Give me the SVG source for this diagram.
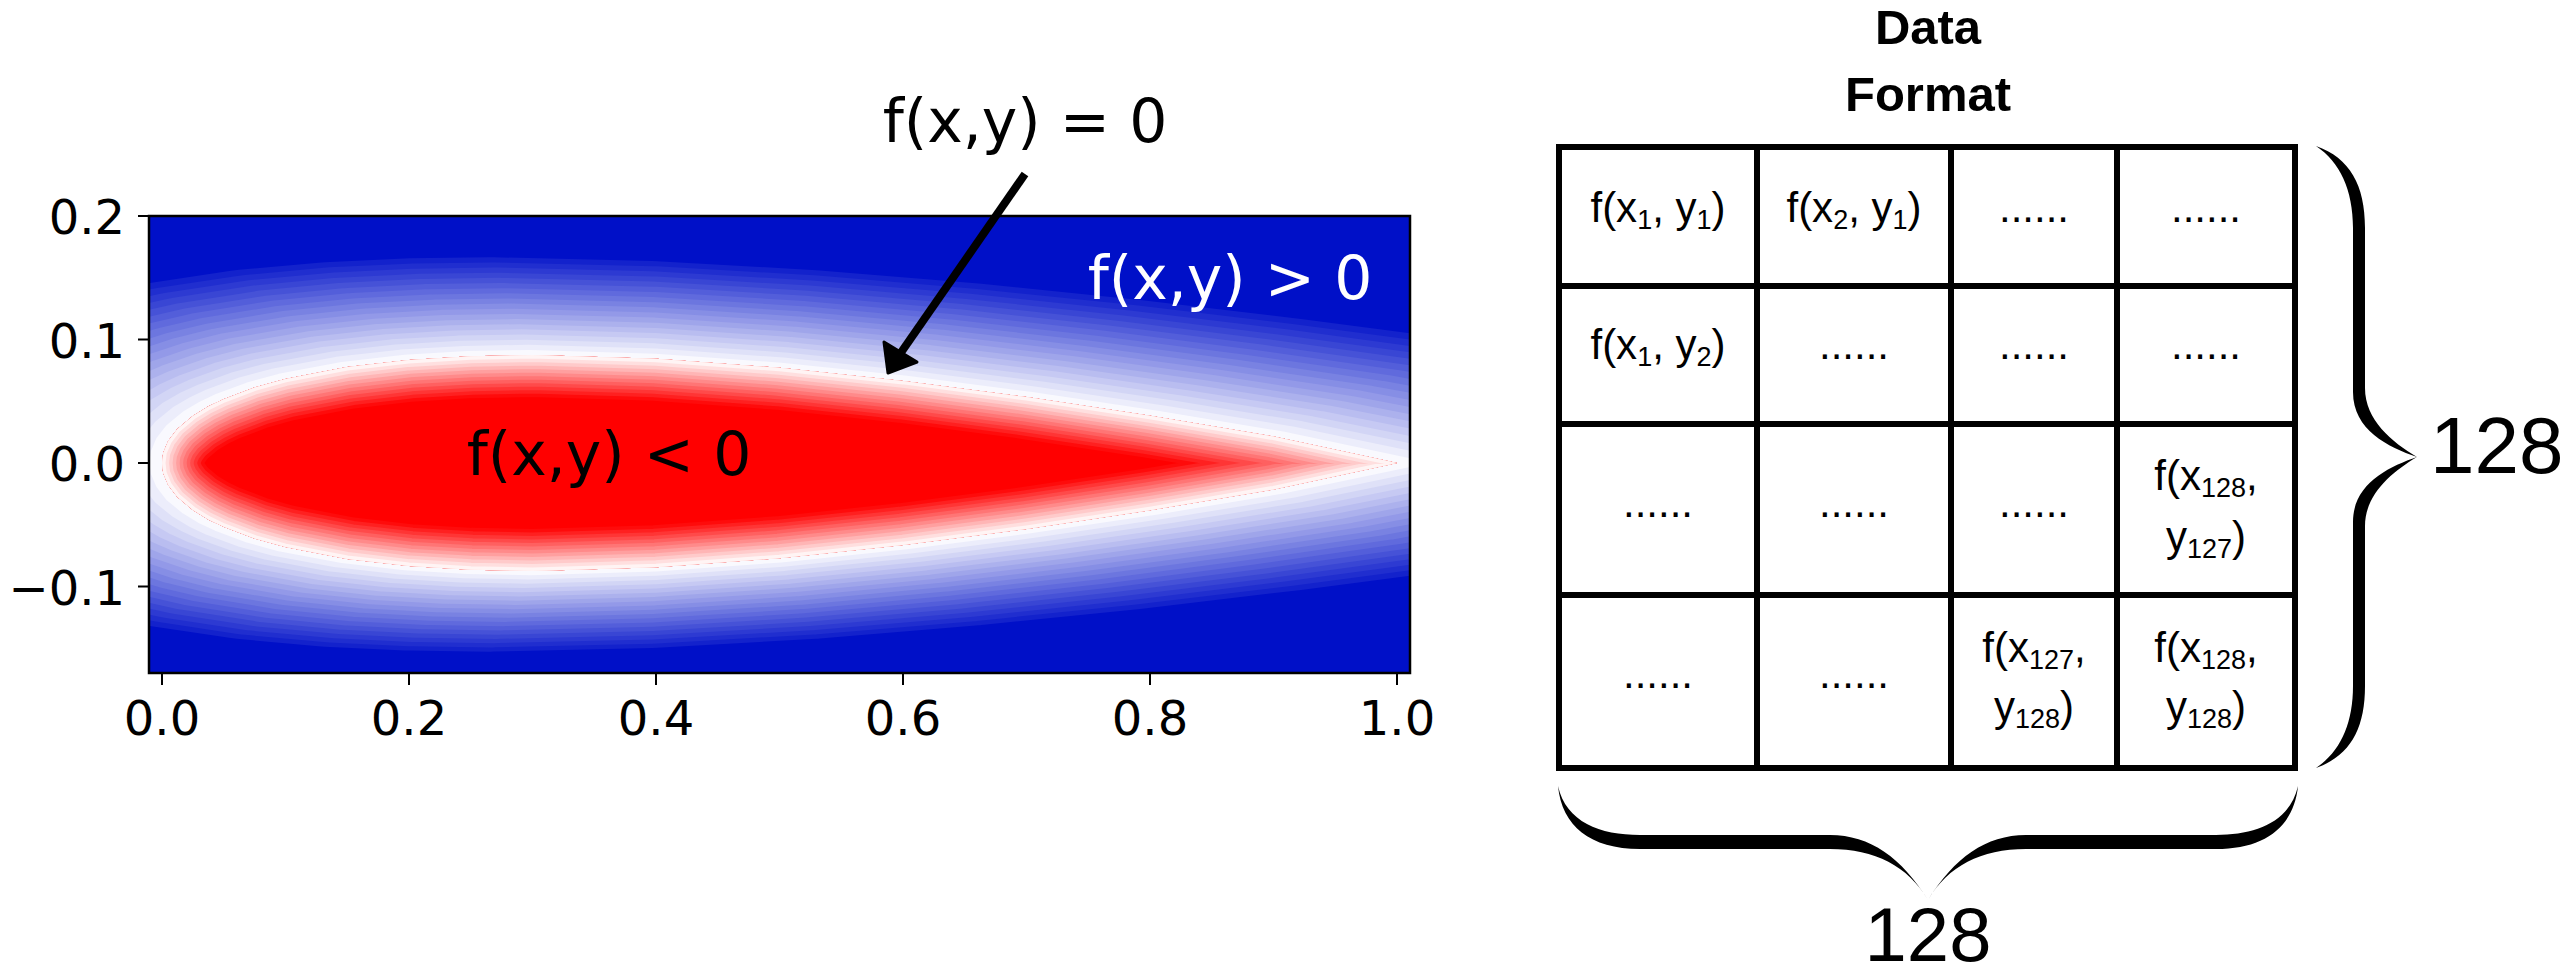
<svg xmlns="http://www.w3.org/2000/svg" xmlns:xlink="http://www.w3.org/1999/xlink" width="2574" height="978" viewBox="0 0 2574 978">
<style>
.tk{stroke:#000;stroke-width:2}
.tl{font-family:"DejaVu Sans",sans-serif;font-size:48px;fill:#000}
.lab{font-family:"DejaVu Sans",sans-serif;font-size:60px;text-anchor:middle}
.ct{font-family:"Liberation Sans",Arial,sans-serif;font-size:42px;text-anchor:middle;fill:#000}
.s{font-size:27px}
.big{font-family:"Liberation Sans",Arial,sans-serif;fill:#000}
.ttl{font-family:"Liberation Sans",Arial,sans-serif;font-size:49px;font-weight:bold;text-anchor:middle}
.af{stroke-linejoin:round}
.grid{stroke:#000;stroke-width:6;fill:none}
</style>
<defs>
<path id="af" d="M1397,463 L1273.5,436.6 L1150,415.8 L1026.5,397.1 L903,380.9 L779.5,367.8 L656,358.8 L532.5,355.1 L470.75,356.2 L409,359.9 L347.25,367.1 L285.5,378.9 L254.6,387.5 L223.75,399.2 L208.3,406.6 L192.9,416 L177.4,429 L168.2,441.1 L163.2,453 L162,463 L163.2,473 L168.2,484.9 L177.4,497 L192.9,510 L208.3,519.4 L223.75,526.8 L254.6,538.5 L285.5,547.1 L347.25,558.9 L409,566.1 L470.75,569.8 L532.5,570.9 L656,567.2 L779.5,558.2 L903,545.1 L1026.5,528.9 L1150,510.2 L1273.5,489.4 Z"/>
<clipPath id="pc"><rect x="149" y="216" width="1261" height="457"/></clipPath>
<clipPath id="ac"><use xlink:href="#af"/></clipPath>
<path id="brR" d="M2316,146 C2350,158 2365,185 2365,228 L2365,388 C2365,420 2392,442 2417,457 C2388,447 2353,430 2353,392 L2353,228 C2353,190 2340,162 2316,146 Z"/>
<path id="brB" d="M1558,786 C1562,826 1590,849 1640,849 L1830,849 C1875,849 1908,866 1928,900 C1902,858 1870,835 1830,835 L1640,835 C1600,835 1566,822 1558,786 Z"/>
</defs>
<rect width="2574" height="978" fill="#fff"/>

<g id="heatmap" clip-path="url(#pc)">
<rect x="149" y="216" width="1261" height="457" fill="#0010C8"/>
<g class="af">
<use xlink:href="#af" fill="#1322CC" stroke="#1322CC" stroke-width="178.6" transform="matrix(1.285 0 0 1 -193.8 -8.55)"/>
<use xlink:href="#af" fill="#202ECF" stroke="#202ECF" stroke-width="169.2" transform="matrix(1.27 0 0 1 -183.6 -8.1)"/>
<use xlink:href="#af" fill="#2D3AD2" stroke="#2D3AD2" stroke-width="159.8" transform="matrix(1.255 0 0 1 -173.4 -7.65)"/>
<use xlink:href="#af" fill="#3946D4" stroke="#3946D4" stroke-width="150.4" transform="matrix(1.24 0 0 1 -163.2 -7.2)"/>
<use xlink:href="#af" fill="#4652D7" stroke="#4652D7" stroke-width="141" transform="matrix(1.225 0 0 1 -153 -6.75)"/>
<use xlink:href="#af" fill="#535EDA" stroke="#535EDA" stroke-width="131.6" transform="matrix(1.21 0 0 1 -142.8 -6.3)"/>
<use xlink:href="#af" fill="#606ADD" stroke="#606ADD" stroke-width="122.2" transform="matrix(1.195 0 0 1 -132.6 -5.85)"/>
<use xlink:href="#af" fill="#6C76DF" stroke="#6C76DF" stroke-width="112.8" transform="matrix(1.18 0 0 1 -122.4 -5.4)"/>
<use xlink:href="#af" fill="#7982E2" stroke="#7982E2" stroke-width="103.4" transform="matrix(1.165 0 0 1 -112.2 -4.95)"/>
<use xlink:href="#af" fill="#868EE5" stroke="#868EE5" stroke-width="94" transform="matrix(1.15 0 0 1 -102 -4.5)"/>
<use xlink:href="#af" fill="#9399E8" stroke="#9399E8" stroke-width="84.6" transform="matrix(1.135 0 0 1 -91.8 -4.05)"/>
<use xlink:href="#af" fill="#9FA5EA" stroke="#9FA5EA" stroke-width="75.2" transform="matrix(1.12 0 0 1 -81.6 -3.6)"/>
<use xlink:href="#af" fill="#ACB1ED" stroke="#ACB1ED" stroke-width="65.8" transform="matrix(1.105 0 0 1 -71.4 -3.15)"/>
<use xlink:href="#af" fill="#B9BDF0" stroke="#B9BDF0" stroke-width="56.4" transform="matrix(1.09 0 0 1 -61.2 -2.7)"/>
<use xlink:href="#af" fill="#C6C9F3" stroke="#C6C9F3" stroke-width="47" transform="matrix(1.075 0 0 1 -51 -2.25)"/>
<use xlink:href="#af" fill="#D2D5F5" stroke="#D2D5F5" stroke-width="37.6" transform="matrix(1.06 0 0 1 -40.8 -1.8)"/>
<use xlink:href="#af" fill="#DFE1F8" stroke="#DFE1F8" stroke-width="28.2" transform="matrix(1.045 0 0 1 -30.6 -1.35)"/>
<use xlink:href="#af" fill="#ECEDFB" stroke="#ECEDFB" stroke-width="18.8" transform="matrix(1.03 0 0 1 -20.4 -0.9)"/>
<use xlink:href="#af" fill="#F9F9FE" stroke="#F9F9FE" stroke-width="9.4" transform="matrix(1.015 0 0 1 -10.2 -0.45)"/>
</g>
<g clip-path="url(#ac)" fill="none" class="af">
<use xlink:href="#af" fill="#FF0000"/>
<use xlink:href="#af" stroke="#FF0B0B" stroke-width="84"/>
<use xlink:href="#af" stroke="#FF2020" stroke-width="77"/>
<use xlink:href="#af" stroke="#FF3535" stroke-width="70"/>
<use xlink:href="#af" stroke="#FF4A4A" stroke-width="63"/>
<use xlink:href="#af" stroke="#FF6060" stroke-width="56"/>
<use xlink:href="#af" stroke="#FF7575" stroke-width="49"/>
<use xlink:href="#af" stroke="#FF8A8A" stroke-width="42"/>
<use xlink:href="#af" stroke="#FF9F9F" stroke-width="35"/>
<use xlink:href="#af" stroke="#FFB5B5" stroke-width="28"/>
<use xlink:href="#af" stroke="#FFCACA" stroke-width="21"/>
<use xlink:href="#af" stroke="#FFDFDF" stroke-width="14"/>
<use xlink:href="#af" stroke="#FFF4F4" stroke-width="7"/>
</g>
</g>

<g id="axes">
<rect x="149" y="216" width="1261" height="457" fill="none" stroke="#000" stroke-width="2.5"/>
<path class="tk" d="M162,673V685M409,673V685M656,673V685M903,673V685M1150,673V685M1397,673V685M138,216H149M138,339.5H149M138,463H149M138,586.5H149"/>
<g class="tl" text-anchor="middle">
<text x="162" y="735">0.0</text><text x="409" y="735">0.2</text><text x="656" y="735">0.4</text><text x="903" y="735">0.6</text><text x="1150" y="735">0.8</text><text x="1397" y="735">1.0</text>
</g>
<g class="tl" text-anchor="end">
<text x="125" y="234">0.2</text><text x="125" y="357.5">0.1</text><text x="125" y="481">0.0</text><text x="125" y="604.5">−0.1</text>
</g>
</g>

<g id="label-neg"><text class="lab" x="609" y="475" fill="#000">f(x,y) &lt; 0</text></g>
<g id="label-pos"><text class="lab" x="1230" y="299" fill="#fff">f(x,y) &gt; 0</text></g>
<g id="label-zero"><text class="lab" x="1025" y="142" fill="#000">f(x,y) = 0</text></g>

<g id="connectors">
<line x1="1025" y1="174" x2="900" y2="354" stroke="#000" stroke-width="8"/>
<polygon points="884,342 917,362 888,373" fill="#000" stroke="#000" stroke-width="3" stroke-linejoin="round"/>
</g>

<g id="title">
<text class="ttl" x="1928" y="44">Data</text>
<text class="ttl" x="1928" y="111">Format</text>
</g>

<g id="grid">
<rect class="grid" x="1559" y="147" width="736" height="621"/>
<path class="grid" stroke-width="5" d="M1757,147V768M1951,147V768M2117,147V768M1559,286H2295M1559,424H2295M1559,595H2295"/>
</g>

<g id="cells" class="ct">
<text x="1658" y="222">f(x<tspan class="s" dy="7">1</tspan><tspan dy="-7">, y</tspan><tspan class="s" dy="7">1</tspan><tspan dy="-7">)</tspan></text>
<text x="1854" y="222">f(x<tspan class="s" dy="7">2</tspan><tspan dy="-7">, y</tspan><tspan class="s" dy="7">1</tspan><tspan dy="-7">)</tspan></text>
<text x="2034" y="222">......</text>
<text x="2206" y="222">......</text>
<text x="1658" y="359">f(x<tspan class="s" dy="7">1</tspan><tspan dy="-7">, y</tspan><tspan class="s" dy="7">2</tspan><tspan dy="-7">)</tspan></text>
<text x="1854" y="359">......</text>
<text x="2034" y="359">......</text>
<text x="2206" y="359">......</text>
<text x="1658" y="517">......</text>
<text x="1854" y="517">......</text>
<text x="2034" y="517">......</text>
<text x="2206" y="490">f(x<tspan class="s" dy="7">128</tspan><tspan dy="-7">,</tspan></text>
<text x="2206" y="551">y<tspan class="s" dy="7">127</tspan><tspan dy="-7">)</tspan></text>
<text x="1658" y="688">......</text>
<text x="1854" y="688">......</text>
<text x="2034" y="662">f(x<tspan class="s" dy="7">127</tspan><tspan dy="-7">,</tspan></text>
<text x="2034" y="721">y<tspan class="s" dy="7">128</tspan><tspan dy="-7">)</tspan></text>
<text x="2206" y="662">f(x<tspan class="s" dy="7">128</tspan><tspan dy="-7">,</tspan></text>
<text x="2206" y="721">y<tspan class="s" dy="7">128</tspan><tspan dy="-7">)</tspan></text>
</g>

<g id="brace-right" fill="#000">
<use xlink:href="#brR"/>
<use xlink:href="#brR" transform="matrix(1 0 0 -1 0 914)"/>
<text class="big" x="2430" y="473" font-size="80">128</text>
</g>
<g id="brace-bottom" fill="#000">
<use xlink:href="#brB"/>
<use xlink:href="#brB" transform="matrix(-1 0 0 1 3856 0)"/>
<text class="big" x="1928" y="961" font-size="76" text-anchor="middle">128</text>
</g>
</svg>
